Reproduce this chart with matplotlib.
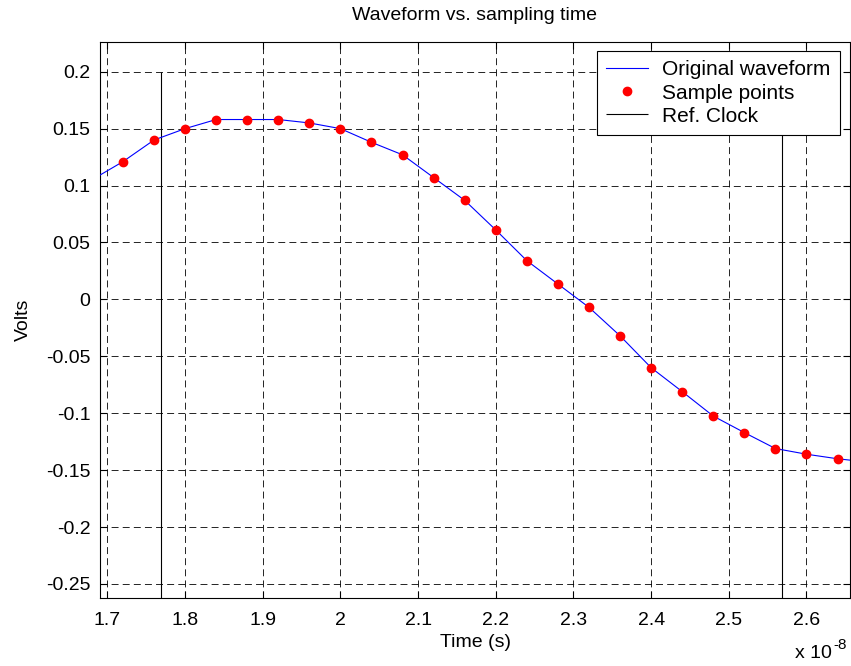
import matplotlib
matplotlib.use("Agg")
import matplotlib.pyplot as plt
from matplotlib.ticker import FuncFormatter, MultipleLocator

plt.rcParams["font.family"] = ["Liberation Sans", "DejaVu Sans"]
plt.rcParams["axes.unicode_minus"] = False
plt.rcParams["lines.scale_dashes"] = False

# time in units of 1e-8 s
sample_t = [1.72, 1.76, 1.80, 1.84, 1.88, 1.92, 1.96, 2.00, 2.04, 2.08,
            2.12, 2.16, 2.20, 2.24, 2.28, 2.32, 2.36, 2.40, 2.44, 2.48,
            2.52, 2.56, 2.60, 2.64]
sample_v = [0.121, 0.140, 0.150, 0.158, 0.158, 0.158, 0.155, 0.150, 0.138, 0.127,
            0.107, 0.087, 0.061, 0.034, 0.0135, -0.007, -0.032, -0.060, -0.081, -0.1025,
            -0.117, -0.131, -0.136, -0.140]
wave_t = [1.68] + sample_t + [2.68]
wave_v = [0.105] + sample_v + [-0.143]
clock_t = [1.7687, 2.5687]
clock_high = 0.2


def fmt(v, pos):
    return "%g" % round(v, 6)


fig = plt.figure(figsize=(8.51, 6.66), dpi=100)
ax = fig.add_axes([100 / 851, 1 - 598 / 666, 750 / 851, 556 / 666])

ax.plot(wave_t, wave_v, color="blue", lw=0.8, label="Original waveform", zorder=3)
ax.plot(sample_t, sample_v, "o", color="red", ms=6, mec="red", label="Sample points", zorder=4)
ax.vlines(clock_t, -0.5, clock_high, color="black", lw=0.8, label="Ref. Clock", zorder=2)

ax.set_xlim(1.6905, 2.656)
ax.set_ylim(-0.2623, 0.2261)
ax.xaxis.set_major_locator(MultipleLocator(0.1))
ax.yaxis.set_major_locator(MultipleLocator(0.05))
ax.xaxis.set_major_formatter(FuncFormatter(fmt))
ax.yaxis.set_major_formatter(FuncFormatter(fmt))
ax.tick_params(direction="in", length=5, width=0.8, top=True, right=True,
               labelsize=14)
ax.tick_params(axis="x", pad=10)
ax.tick_params(axis="y", pad=7)
ax.grid(True, color="black", lw=0.6, ls=(0, (5, 3)))
for s in ax.spines.values():
    s.set_linewidth(0.8)

ax.set_title("Waveform vs. sampling time", fontsize=14, pad=16)
ax.set_xlabel("Time (s)", fontsize=14, labelpad=4)
ax.set_ylabel("Volts", fontsize=14, labelpad=10)
fig.text(832 / 851, 1 - 654 / 666, "x 10", fontsize=14, ha="right", va="center")
fig.text(833 / 851, 1 - 645 / 666, "-8", fontsize=11, ha="left", va="center")

leg = ax.legend(loc="upper right", bbox_to_anchor=(840 / 851, 1 - 51 / 666),
                bbox_transform=fig.transFigure, fontsize=15, fancybox=False,
                framealpha=1, edgecolor="black", borderpad=0.45, labelspacing=0.2,
                handlelength=2.0, handletextpad=0.7, borderaxespad=0)
leg.get_frame().set_linewidth(0.8)

fig.savefig("out.png", dpi=100)
